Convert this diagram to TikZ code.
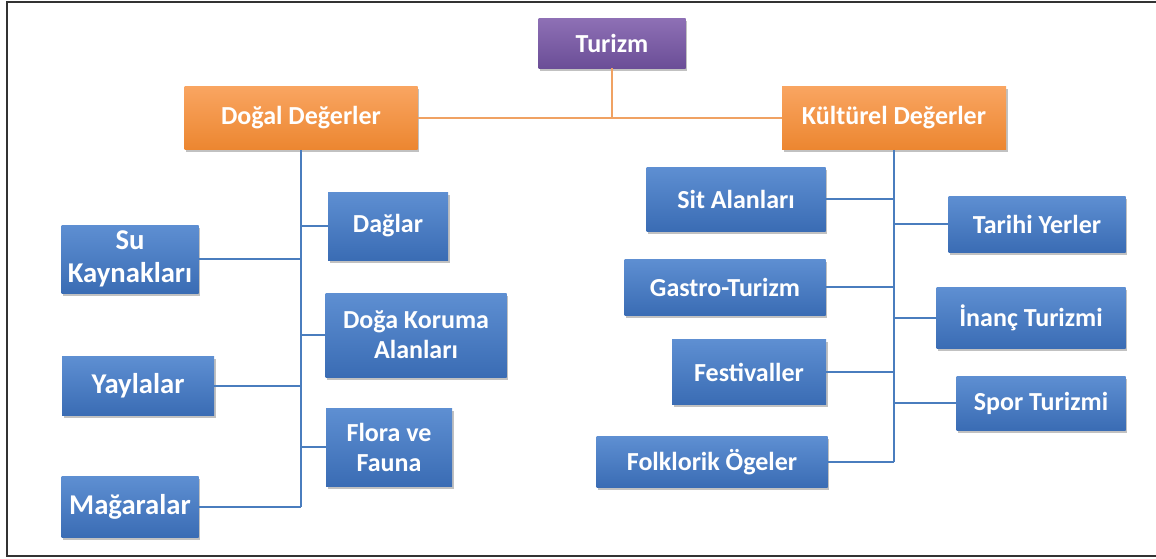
\documentclass[tikz,border=0pt]{standalone}
\usepackage{fontspec}
\setmainfont{Carlito}
\usetikzlibrary{shadows}
\definecolor{bluetop}{HTML}{5E8FD2}
\definecolor{bluebot}{HTML}{3A6CB4}
\definecolor{orgtop}{HTML}{F9A561}
\definecolor{orgbot}{HTML}{EC8630}
\definecolor{purtop}{HTML}{8E70B5}
\definecolor{purbot}{HTML}{6B4E97}
\definecolor{bline}{HTML}{4A7DBE}
\definecolor{oline}{HTML}{F0A263}
\tikzset{
  basebox/.style={rectangle, inner sep=0pt, align=center, text=white,
    font=\fontsize{19.5}{22.5}\selectfont\bfseries,
    drop shadow={shadow xshift=1.2pt, shadow yshift=-2pt, opacity=0.35, fill=black!70}},
  bluebox/.style={basebox, top color=bluetop, bottom color=bluebot},
  bigbox/.style={bluebox, font=\fontsize{21.5}{25}\selectfont\bfseries},
  orangebox/.style={basebox, top color=orgtop, bottom color=orgbot},
  purplebox/.style={basebox, top color=purtop, bottom color=purbot},
  bconn/.style={draw=bline, line width=1.6pt},
  oconn/.style={draw=oline, line width=1.6pt},
  frameline/.style={draw=black!80, line width=1.5pt}
}
\begin{document}
\begin{tikzpicture}[x=0.75pt, y=-0.75pt]
\useasboundingbox (0,0) rectangle (1156,558);
% frame
\coordinate (f1) at (7,556);
\coordinate (f2) at (7,2);
\coordinate (f3) at (1156,2);
\coordinate (f4) at (1156,556);
\draw[frameline] (f3) -- (f2) -- (f1) -- (f4);

% nodes
\node[purplebox, minimum width=110.25pt, minimum height=37.5pt] (tur) at (612,43) {Turizm};
\node[orangebox, minimum width=174.75pt, minimum height=47.25pt] (dog) at (301,118) {Doğal Değerler};
\node[orangebox, minimum width=168pt, minimum height=47.25pt] (kul) at (894,118) {Kültürel Değerler};

\node[bluebox, minimum width=90pt, minimum height=51pt] (dag) at (388,226) {Dağlar};
\node[bigbox, minimum width=102.75pt, minimum height=51pt] (su) at (130,259) {Su\\Kaynakları};
\node[bluebox, minimum width=135.75pt, minimum height=63pt] (kor) at (416,335) {Doğa Koruma\\Alanları};
\node[bigbox, minimum width=114pt, minimum height=44.25pt] (yay) at (138,386) {Yaylalar};
\node[bluebox, minimum width=94.5pt, minimum height=58.5pt] (flo) at (389,447) {Flora ve\\Fauna};
\node[bigbox, minimum width=102.75pt, minimum height=45.75pt] (mag) at (130,507) {Mağaralar};

\node[bluebox, minimum width=134.25pt, minimum height=48pt] (sit) at (736,199) {Sit Alanları};
\node[bluebox, minimum width=132.75pt, minimum height=42pt] (tar) at (1037,224) {Tarihi Yerler};
\node[bluebox, minimum width=150.75pt, minimum height=42pt] (gas) at (725,287) {Gastro-Turizm};
\node[bluebox, minimum width=141.75pt, minimum height=45.75pt] (ina) at (1031,318) {İnanç Turizmi};
\node[bluebox, minimum width=115.5pt, minimum height=48.75pt] (fes) at (749,372) {Festivaller};
\node[bluebox, minimum width=126.75pt, minimum height=40.5pt] (spo) at (1041,403) {Spor Turizmi};
\node[bluebox, minimum width=173.25pt, minimum height=38.25pt] (fol) at (712,462) {Folklorik Ögeler};

% connectors (drawn on top region between boxes)
\begin{scope}[on background layer/.style={}]
\draw[oconn] (tur.south) |- (dog.east);
\draw[oconn] (tur.south) |- (kul.west);

\draw[bconn] (dog.south) -- (dog.south |- mag.east);
\draw[bconn] (dag.west) -- (dag.west -| dog.south);
\draw[bconn] (su.east) -- (su.east -| dog.south);
\draw[bconn] (kor.west) -- (kor.west -| dog.south);
\draw[bconn] (yay.east) -- (yay.east -| dog.south);
\draw[bconn] (flo.west) -- (flo.west -| dog.south);
\draw[bconn] (mag.east) -- (mag.east -| dog.south);

\draw[bconn] (kul.south) -- (kul.south |- fol.east);
\draw[bconn] (sit.east) -- (sit.east -| kul.south);
\draw[bconn] (tar.west) -- (tar.west -| kul.south);
\draw[bconn] (gas.east) -- (gas.east -| kul.south);
\draw[bconn] (ina.west) -- (ina.west -| kul.south);
\draw[bconn] (fes.east) -- (fes.east -| kul.south);
\draw[bconn] (spo.west) -- (spo.west -| kul.south);
\draw[bconn] (fol.east) -- (fol.east -| kul.south);
\end{scope}
\end{tikzpicture}
\end{document}
